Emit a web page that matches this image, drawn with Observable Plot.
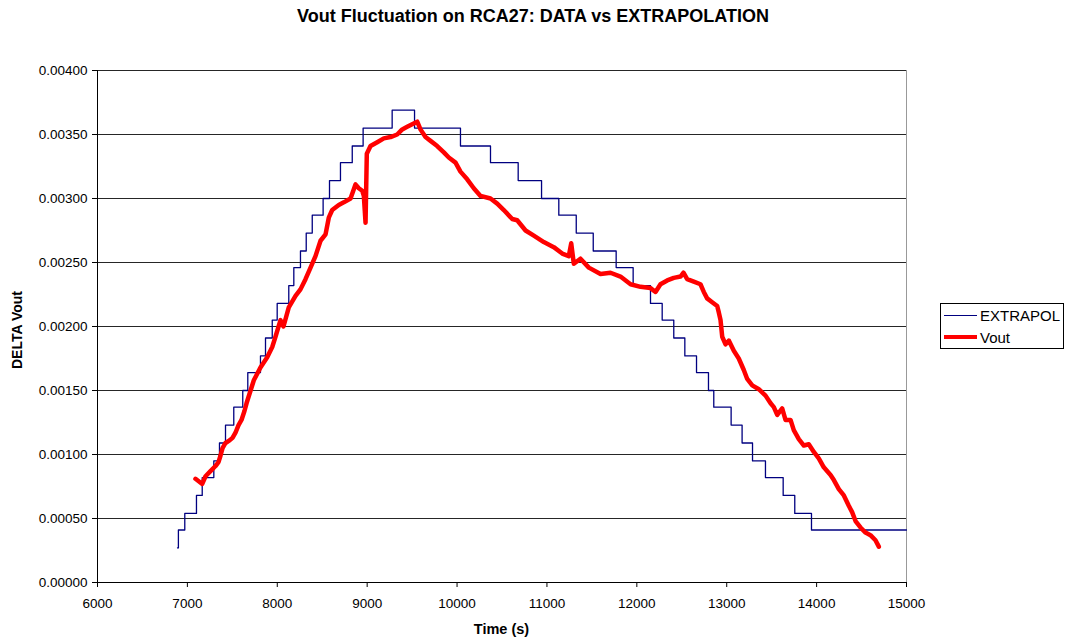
<!DOCTYPE html>
<html>
<head>
<meta charset="utf-8">
<script src="https://cdn.jsdelivr.net/npm/d3@7"></script>
<script src="https://cdn.jsdelivr.net/npm/@observablehq/plot@0.6"></script>
<style>
  body { margin: 0; background: #fff; font-family: "Liberation Sans", Arial, sans-serif; }
  #wrap { position: relative; width: 1066px; height: 639px; overflow: hidden; }
  #chart { position: absolute; left: 0; top: 0; }
  #title { position: absolute; left: 0; top: 6px; width: 1066px; text-align: center; font-weight: bold; font-size: 18px; color: #000; }
  #xlabel { position: absolute; left: 97px; width: 809px; top: 621px; text-align: center; font-weight: bold; font-size: 14.5px; }
  #ylabel { position: absolute; left: 17px; top: 330px; font-weight: bold; font-size: 14px; transform: translate(-50%, -50%) rotate(-90deg); white-space: nowrap; }
  #legend { position: absolute; left: 940px; top: 303px; width: 124px; height: 46px; border: 1px solid #000; box-sizing: border-box; font-size: 15px; }
  .item { position: absolute; left: 3px; height: 18px; display: flex; align-items: center; }
  .swatch { width: 33px; margin-right: 3px; }
</style>
</head>
<body>
<div id="wrap">
  <div id="chart"></div>
  <div id="title">Vout Fluctuation on RCA27: DATA vs EXTRAPOLATION</div>
  <div id="xlabel">Time (s)</div>
  <div id="ylabel">DELTA Vout</div>
  <div id="legend">
    <div class="item" style="top:2px"><div class="swatch" style="border-top:1.5px solid #000080"></div><span>EXTRAPOL</span></div>
    <div class="item" style="top:24px"><div class="swatch" style="border-top:4px solid #ff0000"></div><span>Vout</span></div>
  </div>
</div>
<script>
// Tick values
const xTicks = [6000, 7000, 8000, 9000, 10000, 11000, 12000, 13000, 14000, 15000];
const yTicks = [0, 0.0005, 0.001, 0.0015, 0.002, 0.0025, 0.003, 0.0035, 0.004];

// EXTRAPOL step series: time at which each level starts, and level value
const extrapTime = [6890, 6900, 6971, 7101, 7165, 7294, 7357, 7424, 7516, 7616, 7672, 7813, 7869, 7944, 7999, 8128, 8184, 8258, 8322, 8389, 8510, 8581, 8703, 8834, 8955, 9278,
  9527, 10038, 10372, 10680, 10940, 11132, 11326, 11515, 11770, 11959, 12152, 12282, 12411, 12534, 12664, 12797, 12856, 13049, 13171, 13287, 13431, 13628, 13757, 13943, 15000];
const extrapValue = [0.00027, 0.00041, 0.00054, 0.00068, 0.00082, 0.00095, 0.00109, 0.00123, 0.00137, 0.00150, 0.00164, 0.00177, 0.00191, 0.00205, 0.00218, 0.00232, 0.00246, 0.00259, 0.00273, 0.00287, 0.00300, 0.00314, 0.00328, 0.00341, 0.00355, 0.00369,
  0.00355, 0.00341, 0.00328, 0.00314, 0.00300, 0.00287, 0.00273, 0.00259, 0.00246, 0.00232, 0.00218, 0.00205, 0.00191, 0.00177, 0.00164, 0.00150, 0.00137, 0.00123, 0.00109, 0.00095, 0.00082, 0.00068, 0.00054, 0.00041, 0.00041];

// Vout measured series
const voutTime = [7090, 7165, 7202, 7257, 7313, 7346, 7368, 7391, 7424, 7469, 7502, 7535, 7569, 7602, 7635, 7658, 7739, 7813, 7888, 7944, 7980, 8036, 8069, 8128, 8203, 8258, 8314, 8370, 8425, 8481, 8537, 8573, 8611, 8684, 8740, 8815, 8870, 8907, 8945, 8963, 8982, 8996,
  9037, 9112, 9185, 9260, 9334, 9390, 9445, 9501, 9557, 9593, 9649, 9705, 9779, 9853, 9908, 9983, 10038, 10113, 10186, 10261, 10372, 10447, 10520, 10614, 10669, 10762, 10854, 10965,
  11076, 11170, 11243, 11270, 11299, 11373, 11466, 11596, 11707, 11818, 11930, 12041, 12152, 12208, 12263, 12338, 12411, 12486, 12519, 12560, 12634, 12708, 12745, 12782, 12838, 12894,
  12912, 12931, 12950, 12987, 13023, 13079, 13134, 13190, 13228, 13284, 13357, 13432, 13488, 13524, 13562, 13617, 13654, 13710, 13746, 13802, 13858, 13913, 13969, 14024, 14080, 14155,
  14192, 14247, 14303, 14358, 14395, 14433, 14488, 14544, 14599, 14655, 14692];
const voutValue = [0.00081, 0.00077, 0.00083, 0.00087, 0.00091, 0.00094, 0.00099, 0.00105, 0.00109, 0.00111, 0.00113, 0.00117, 0.00123, 0.00127, 0.00134, 0.00140, 0.00158, 0.00168, 0.00176, 0.00184, 0.00192, 0.00205, 0.00200, 0.00215, 0.00224, 0.00229, 0.00237, 0.00246, 0.00255, 0.00267, 0.00272, 0.00285, 0.00291, 0.00295, 0.00297, 0.00300, 0.00311, 0.00308, 0.00306, 0.00302, 0.00281, 0.00335,
  0.00341, 0.00344, 0.00347, 0.00348, 0.00350, 0.00354, 0.00356, 0.00358, 0.00360, 0.00354, 0.00348, 0.00345, 0.00341, 0.00336, 0.00332, 0.00328, 0.00321, 0.00315, 0.00308, 0.00302, 0.00300, 0.00296, 0.00291, 0.00284, 0.00283, 0.00275, 0.00271, 0.00266,
  0.00262, 0.00257, 0.00255, 0.00265, 0.00249, 0.00253, 0.00246, 0.00241, 0.00242, 0.00239, 0.00233, 0.00231, 0.00230, 0.00227, 0.00233, 0.00236, 0.00238, 0.00239, 0.00242, 0.00237, 0.00235, 0.00233, 0.00227, 0.00222, 0.00219, 0.00216,
  0.00211, 0.00205, 0.00192, 0.00186, 0.00189, 0.00181, 0.00175, 0.00166, 0.00159, 0.00154, 0.00151, 0.00146, 0.00140, 0.00137, 0.00131, 0.00136, 0.00127, 0.00127, 0.00119, 0.00112, 0.00107, 0.00108, 0.00102, 0.00097, 0.00090, 0.00084,
  0.00080, 0.00073, 0.00068, 0.00060, 0.00055, 0.00048, 0.00043, 0.00039, 0.00037, 0.00033, 0.00028];

const extrap = extrapTime.map((t, i) => ({t, v: extrapValue[i]}));
const vout = voutTime.map((t, i) => ({t, v: voutValue[i]}));

const chart = Plot.plot({
  width: 1066,
  height: 639,
  marginLeft: 97,
  marginRight: 160,
  marginTop: 70,
  marginBottom: 57,
  style: {fontFamily: '"Liberation Sans", Arial, sans-serif', fontSize: "13.5px", color: "#000", background: "#fff"},
  x: {domain: [6000, 15000]},
  y: {domain: [0, 0.004]},
  marks: [
    Plot.ruleY(yTicks, {stroke: "#000", strokeWidth: 1, strokeOpacity: 0.85}),
    Plot.ruleX([15000], {stroke: "#999", strokeWidth: 1}),
    Plot.line(extrap, {x: "t", y: "v", curve: "step-after", stroke: "#000080", strokeWidth: 1.3}),
    Plot.line(vout, {x: "t", y: "v", stroke: "#ff0000", strokeWidth: 4.5, strokeLinejoin: "round", strokeLinecap: "round"}),
    Plot.ruleX([6000], {stroke: "#000", strokeWidth: 1}),
    Plot.ruleY([0], {stroke: "#000", strokeWidth: 1}),
    Plot.axisX({ticks: xTicks, tickFormat: "d", tickSize: 5, tickPadding: 11, label: null, fontSize: 13.5}),
    Plot.axisY({ticks: yTicks, tickFormat: ".5f", tickSize: 5, tickPadding: 5, label: null, fontSize: 13.5})
  ]
});
document.getElementById("chart").appendChild(chart);
</script>
</body>
</html>
